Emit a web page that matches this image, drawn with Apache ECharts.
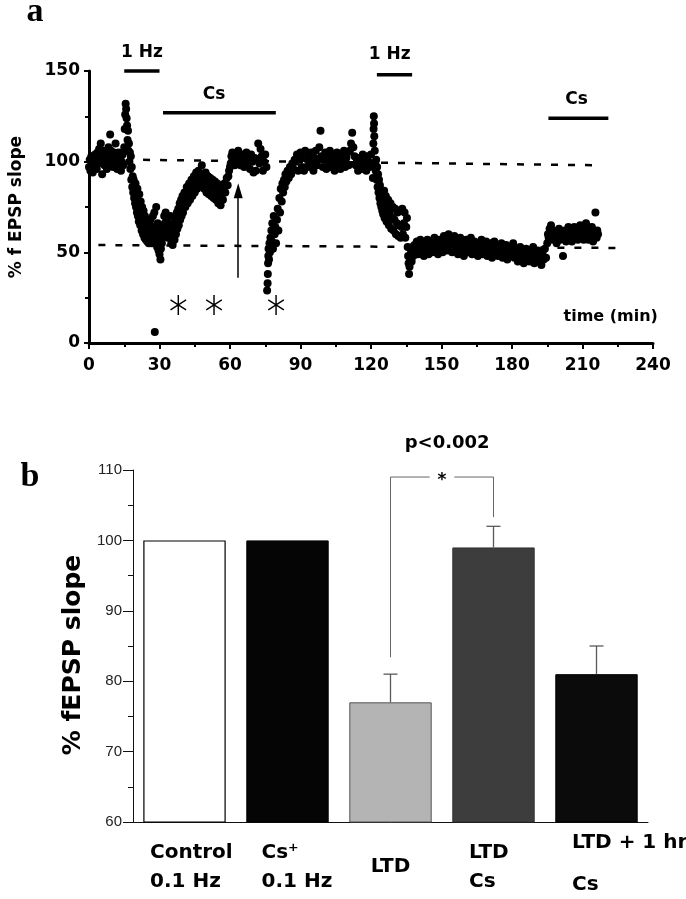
<!DOCTYPE html>
<html><head><meta charset="utf-8">
<script src="https://cdn.jsdelivr.net/npm/echarts@6/dist/echarts.min.js"></script>
<style>html,body{margin:0;padding:0;background:#fff}#c{width:686px;height:899px}</style>
</head><body><div id="c"></div>
<script>
// ================= DATA =================
// Panel a: % fEPSP slope vs time (min), [time, value]
const traceBaseline = [[0,97],[0.3,101],[0.6,95],[1,103],[1.3,99],[1.6,94],[2,102],[2.3,98],[2.6,104],[3,100],[3.3,96],[3.6,105],[4,99],[4.3,107],[4.6,101],[5,110],[5.3,103],[5.6,93],[6,100],[6.3,106],[6.6,98],[7,104],[7.3,100],[7.6,96],[8,103],[8.3,108],[8.6,101],[9,115],[9.3,106],[9.6,99],[10,103],[10.3,97],[10.6,105],[11,100],[11.3,110],[11.6,102],[12,96],[12.3,101],[12.6,105],[13,98],[13.3,103],[13.6,95],[14,100],[14.3,104],[14.6,98]];
const traceLfs1 = [[15,108],[15.2,118],[15.4,126],[15.6,132],[15.8,129],[16,124],[16.2,120],[16.4,112],[16.6,117],[16.8,106],[17,110],[17.2,100],[17.4,105],[17.6,96],[17.8,103],[18,90],[18.2,97],[18.4,86],[18.6,92],[18.8,83],[19,90],[19.2,80],[19.4,86],[19.6,77],[19.8,88],[20,75],[20.2,82],[20.4,72],[20.6,85],[20.8,70],[21,78],[21.2,67],[21.4,82],[21.6,73],[21.8,65],[22,78],[22.2,70],[22.4,62],[22.6,75],[22.8,67],[23,60],[23.2,73],[23.4,64],[23.6,58],[23.8,70],[24,62],[24.2,57],[24.4,68],[24.6,60],[24.8,56],[25,66],[25.2,59],[25.4,55],[25.6,65],[25.8,61],[26,56],[26.2,68],[26.4,60],[26.6,55],[26.8,64],[27,58],[27.2,70],[27.4,55],[27.6,62],[27.8,72],[28,57],[28.2,64],[28.4,55],[28.6,75],[28.8,60],[29,53],[29.2,66],[29.4,57],[29.6,51],[29.8,62],[30,49],[30.2,55],[30.4,46],[30.6,52],[30.8,58],[31,55]];
const traceCs1 = [[31.3,60],[31.6,64],[32,70],[32.3,66],[32.6,72],[33,62],[33.3,68],[33.6,58],[34,65],[34.3,60],[34.6,70],[35,55],[35.3,63],[35.6,54],[36,61],[36.2,66],[36.4,57],[36.6,63],[36.8,69],[37,60],[37.2,66],[37.4,72],[37.6,63],[37.8,69],[38,74],[38.2,65],[38.4,71],[38.6,77],[38.8,68],[39,74],[39.2,79],[39.4,70],[39.6,76],[39.8,81],[40,72],[40.3,78],[40.6,83],[41,75],[41.3,81],[41.6,86],[42,77],[42.3,83],[42.6,88],[43,79],[43.3,85],[43.6,90],[44,81],[44.3,87],[44.6,92],[45,83],[45.3,89],[45.6,94],[46,85],[46.3,90],[46.6,95],[47,87],[47.3,92],[47.6,89],[48,98],[48.3,88],[48.6,93],[49,85],[49.3,90],[49.6,94],[50,83],[50.3,88],[50.6,92],[51,82],[51.3,87],[51.6,91],[52,81],[52.3,86],[52.6,90],[53,80],[53.3,85],[53.6,89],[54,79],[54.3,84],[54.6,88],[55,77],[55.3,82],[55.6,86],[56,76],[56.3,81],[56.6,85],[57,79],[57.3,84],[57.6,88],[58,83],[58.3,87],[58.6,91],[59,87],[59.3,92],[59.6,95],[60,97],[60.3,99],[60.6,103],[61,105],[61.5,101],[62,98],[62.5,104],[63,100],[63.5,106],[64,102],[64.5,98],[65,104],[65.5,100],[66,97],[66.5,103],[67,105],[67.5,99],[68,101],[68.5,96],[69,104],[69.5,100],[70,94],[70.5,102],[71,95],[71.5,101],[72,110],[72.5,99],[73,107],[73.5,103],[74,95],[74.5,100],[75,104],[75.5,97]];
const traceRecovery = [[75.8,29],[76,33],[76.1,38],[76.2,44],[76.3,48],[76.4,52],[76.6,46],[76.8,55],[77,50],[77.2,58],[77.4,53],[77.6,62],[77.8,56],[78,66],[78.3,52],[78.6,70],[79,60],[79.3,64],[79.6,55],[80,68],[80.3,74],[80.6,62],[81,80],[81.3,72],[81.6,85],[82,78],[82.3,88],[82.6,83],[83,90],[83.3,86],[83.6,93],[84,89],[84.5,95],[85,91],[85.5,97],[86,93],[86.5,99],[87,96],[87.5,101]];
const tracePlateau = [[88,100],[88.5,104],[89,95],[89.5,101],[90,105],[90.5,97],[91,102],[91.5,95],[92,106],[92.5,97],[93,101],[93.5,104],[94,97],[94.5,105],[95,100],[95.5,95],[96,102],[96.5,106],[97,98],[97.5,101],[98,108],[98.5,117],[99,103],[99.5,97],[100,101],[100.5,105],[101,96],[101.5,102],[102,99],[102.5,106],[103,97],[103.5,101],[104,104],[104.5,95],[105,100],[105.5,105],[106,98],[106.5,102],[107,96],[107.5,104],[108,100],[108.5,106],[109,97],[109.5,102],[110,105],[110.5,98],[111,106],[111.5,110],[112,116],[112.5,108],[113,103],[113.5,98],[114,101],[114.5,95],[115,102],[115.5,100],[116,96],[116.5,104],[117,98],[117.5,101],[118,95],[118.5,103],[119,100],[119.5,97],[120,104],[120.5,99]];
const traceLfs2 = [[120.8,91],[121,110],[121.1,118],[121.2,125],[121.3,121],[121.4,114],[121.6,106],[121.8,99],[122,95],[122.2,101],[122.4,90],[122.6,97],[122.8,86],[123,93],[123.2,83],[123.4,90],[123.6,80],[123.8,87],[124,77],[124.2,84],[124.4,75],[124.6,81],[124.8,73],[125,79],[125.2,71],[125.4,77],[125.6,84],[125.8,69],[126,75],[126.3,81],[126.6,67],[127,73],[127.3,79],[127.6,65],[128,71],[128.3,77],[128.6,63],[129,69],[129.3,75],[129.6,62],[130,68],[130.3,74],[130.6,60],[131,66],[131.3,72],[131.6,59],[132,65],[132.3,73],[132.6,58],[133,64],[133.3,74],[133.6,60],[134,66],[134.3,72],[134.6,58],[135,64],[135.3,69],[135.6,53],[135.8,48],[136,44],[136.2,38],[136.4,42],[136.6,47],[137,51],[137.3,45],[137.6,53]];
const traceLtd = [[138,48],[138.5,54],[139,50],[139.5,56],[140,49],[140.5,53],[141,57],[141.5,50],[142,54],[142.5,48],[143,55],[143.5,51],[144,57],[144.5,49],[145,53],[145.5,56],[146,50],[146.5,54],[147,58],[147.5,51],[148,55],[148.5,49],[149,57],[149.5,52],[150,56],[150.5,50],[151,59],[151.5,53],[152,57],[152.5,51],[153,60],[153.5,54],[154,57],[154.5,50],[155,55],[155.5,59],[156,52],[156.5,56],[157,49],[157.5,54],[158,58],[158.5,51],[159,55],[159.5,48],[160,53],[160.5,57],[161,50],[161.5,55],[162,52],[162.5,58],[163,49],[163.5,54],[164,56],[164.5,50],[165,53],[165.5,48],[166,55],[166.5,51],[167,57],[167.5,49],[168,54],[168.5,52],[169,56],[169.5,48],[170,53],[170.5,50],[171,55],[171.5,47],[172,52],[172.5,56],[173,50],[173.5,54],[174,48],[174.5,53],[175,51],[175.5,55],[176,47],[176.5,52],[177,49],[177.5,54],[178,46],[178.5,51],[179,53],[179.5,48],[180,50],[180.5,55],[181,47],[181.5,52],[182,49],[182.5,45],[183,51],[183.5,53],[184,47],[184.5,50],[185,44],[185.5,49],[186,52],[186.5,46],[187,50],[187.5,45],[188,51],[188.5,48],[189,53],[189.5,44],[190,49],[190.5,46],[191,51],[191.5,45],[192,48],[192.5,43],[193,50],[193.5,46],[194,52],[194.5,47]];
const traceCs2 = [[195,55],[195.3,60],[195.6,58],[196,63],[196.3,57],[196.6,65],[197,59],[197.5,62],[198,57],[198.5,61],[199,55],[199.5,60],[200,63],[200.5,57],[201,60],[201.7,48],[202,58],[202.5,62],[203,56],[203.5,60],[204,64],[204.5,58],[205,61],[205.5,56],[206,60],[206.5,64],[207,58],[207.5,62],[208,57],[208.5,61],[209,65],[209.5,59],[210,62],[210.5,57],[211,63],[211.5,66],[212,60],[212.5,57],[213,62],[213.5,59],[214,64],[214.5,56],[215,61],[215.5,72],[216,58],[216.3,62],[216.6,60]];
const traceOutliers = [[28,6]];
// reference (dashed) levels: [time, value]
const refHigh = [[23,101],[218,98]];
const refLow = [[4,54],[225,52.4]];
// treatment periods: [label, start min, end min]
const periods = [['1 Hz',15,30],['Cs',31.5,79.5],['1 Hz',122.5,137.5],['Cs',195.5,221]];
// arrow (time, from value, to value) and asterisk times
const arrowAt = [63.5, 36, 84];
const starTimes = [38, 53.2, 79.6];

// Panel b
const groupLabels = [['Control','0.1 Hz'],['Cs\u207A','0.1 Hz'],['LTD'],['LTD','Cs'],['LTD + 1 hr','Cs']];
const barMeans = [100, 100, 77, 99, 81];
const barErrUp = [null, null, 81, 102, 85];
const sigPair = [2, 3];
const sigText = 'p<0.002';

// ================= CHART =================
const chart = echarts.init(document.getElementById('c'), null, {renderer:'canvas'});
const BOLD = '"DejaVu Sans"';
const black = '#000';
const traceAll = [].concat(traceBaseline, traceLfs1, traceCs1, traceRecovery, tracePlateau, traceLfs2, traceLtd, traceCs2, traceOutliers);

const periodY = [150, 127, 148, 124];
const periodTextY = [160, 137, 159, 134];
const periodTextX = [22.5, 53.2, 128, 207.5];

const barStyles = [
  {color:'#ffffff', borderColor:'#000', borderWidth:1.2},
  {color:'#050505', borderColor:'#000', borderWidth:1},
  {color:'#b4b4b4', borderColor:'#555', borderWidth:1},
  {color:'#3d3d3d', borderColor:'#333', borderWidth:1},
  {color:'#0b0b0b', borderColor:'#000', borderWidth:1}
];

const starPath = 'path://M-0.8,-10L0.8,-10L0.8,10L-0.8,10Z M-8.26,-5.69L9.06,4.31L8.26,5.69L-9.06,-4.31Z M-9.06,4.31L8.26,-5.69L9.06,-4.31L-8.26,5.69Z';

const series = [
  {type:'scatter', xAxisIndex:0, yAxisIndex:0, data:traceAll, symbolSize:8, itemStyle:{color:'#000', opacity:1}, silent:true, z:3},
  {type:'line', xAxisIndex:0, yAxisIndex:0, data:refHigh, symbol:'none', lineStyle:{color:black, width:2.5, type:[7,10]}, silent:true, z:2},
  {type:'line', xAxisIndex:0, yAxisIndex:0, data:refLow, symbol:'none', lineStyle:{color:black, width:2.5, type:[7,10]}, silent:true, z:2},
  {type:'line', xAxisIndex:0, yAxisIndex:0, data:[], symbol:'none', silent:true,
    markLine:{silent:true, symbol:['none','triangle'], symbolSize:[9,15], label:{show:false},
      lineStyle:{color:black, width:1.5, type:'solid', opacity:1}, itemStyle:{color:black},
      data:[[{coord:[arrowAt[0],arrowAt[1]]},{coord:[arrowAt[0],arrowAt[2]]}]]}},
  {type:'scatter', xAxisIndex:0, yAxisIndex:0, data:starTimes.map(t=>[t,21]), symbol:starPath, symbolSize:[18,20], symbolKeepAspect:true, itemStyle:{color:'#000', opacity:1}, silent:true}
];
periods.forEach((p,i)=>{
  series.push({type:'line', xAxisIndex:0, yAxisIndex:0, clip:false, data:[[p[1],periodY[i]],[p[2],periodY[i]]], symbol:'none', lineStyle:{color:black, width:3.5}, silent:true});
});
// bars
series.push({type:'bar', xAxisIndex:1, yAxisIndex:1, barCategoryGap:'20%',
  data:barMeans.map((v,i)=>({value:v, itemStyle:barStyles[i]})), silent:true, z:2});
// error bars
series.push({type:'custom', xAxisIndex:2, yAxisIndex:1, silent:true, z:3,
  data:barMeans.map((v,i)=>barErrUp[i]==null?null:[i, v, barErrUp[i]]).filter(d=>d),
  encode:{x:0, y:[1,2]},
  renderItem:function(params, api){
    const p0 = api.coord([api.value(0), api.value(1)]);
    const p1 = api.coord([api.value(0), api.value(2)]);
    const st = {stroke:'#5a5a5a', lineWidth:1.3};
    return {type:'group', children:[
      {type:'line', shape:{x1:p0[0], y1:p0[1], x2:p1[0], y2:p1[1]}, style:st},
      {type:'line', shape:{x1:p1[0]-7, y1:p1[1], x2:p1[0]+7, y2:p1[1]}, style:st}
    ]};
  }});
// significance bracket
series.push({type:'line', xAxisIndex:2, yAxisIndex:1, data:[[sigPair[0],83.4],[sigPair[0],109],[2.38,109]], symbol:'none', lineStyle:{color:'#666', width:1}, silent:true});
series.push({type:'line', xAxisIndex:2, yAxisIndex:1, data:[[2.62,109],[sigPair[1],109],[sigPair[1],103.3]], symbol:'none', lineStyle:{color:'#666', width:1}, silent:true});

const option = {
  animation:false,
  backgroundColor:'#fff',
  grid:[{left:88, top:71, width:565, height:272}, {left:133, top:470, width:515, height:352}],
  xAxis:[
    {gridIndex:0, type:'value', min:0, max:240, interval:30,
      axisLine:{show:true, onZero:false, lineStyle:{color:black, width:3}},
      axisTick:{show:true, length:6, lineStyle:{color:black, width:2}},
      minorTick:{show:true, splitNumber:2, length:4, lineStyle:{color:black, width:2}},
      splitLine:{show:false},
      axisLabel:{color:black, fontFamily:BOLD, fontWeight:'bold', fontSize:17, margin:14}},
    {gridIndex:1, type:'category', data:groupLabels.map(l=>l.join('\n')),
      axisLine:{show:true, lineStyle:{color:'#111', width:1}}, axisTick:{show:false}, axisLabel:{show:false}},
    {gridIndex:1, type:'value', min:-0.5, max:4.5, show:false}
  ],
  yAxis:[
    {gridIndex:0, type:'value', min:0, max:150, interval:50,
      axisLine:{show:true, onZero:false, lineStyle:{color:black, width:3}},
      axisTick:{show:true, length:5, lineStyle:{color:black, width:2}},
      minorTick:{show:true, splitNumber:2, length:4, lineStyle:{color:black, width:2}},
      splitLine:{show:false},
      axisLabel:{color:black, fontFamily:BOLD, fontWeight:'bold', fontSize:17, margin:9},
      name:'% f EPSP slope', nameLocation:'middle', nameGap:64,
      nameTextStyle:{color:black, fontFamily:BOLD, fontWeight:'bold', fontSize:17}},
    {gridIndex:1, type:'value', min:60, max:110, interval:10,
      axisLine:{show:true, onZero:false, lineStyle:{color:'#111', width:1}},
      axisTick:{show:true, length:10, lineStyle:{color:'#111', width:1}},
      minorTick:{show:true, splitNumber:2, length:5, lineStyle:{color:'#111', width:1}},
      splitLine:{show:false},
      axisLabel:{color:'#222', fontFamily:'"Liberation Sans"', fontSize:15, margin:11},
      name:'% fEPSP slope', nameLocation:'middle', nameGap:40,
      nameTextStyle:{color:black, fontFamily:BOLD, fontWeight:'bold', fontSize:25, padding:[0,18,0,0]}}
  ],
  series:series
};
chart.setOption(option);

// ---------- text annotations positioned through the axes ----------
const g = [];
const pa = (x,y)=>chart.convertToPixel({gridIndex:0}, [x,y]);
const pb = (x,y)=>[chart.convertToPixel({xAxisIndex:2}, x), chart.convertToPixel({yAxisIndex:1}, y)];
function txt(x,y,text,font,align,valign){
  g.push({type:'text', x:x, y:y, silent:true, style:{text:text, font:font, fill:'#000', textAlign:align||'center', textVerticalAlign:valign||'middle'}});
}
periods.forEach((p,i)=>{ const q = pa(periodTextX[i], periodTextY[i]); txt(q[0], q[1], p[0], 'bold 17px '+BOLD); });
{ const q = pa(222, 14.3); txt(q[0], q[1], 'time (min)', 'bold 16px '+BOLD); }
// panel letters
txt(35, 12, 'a', 'bold 34px "Liberation Serif"');
txt(30, 477, 'b', 'bold 34px "Liberation Serif"');
// significance
{ const q = pb(2.5, 109); txt(q[0], q[1]+4, '*', 'bold 17px '+BOLD); }
{ const q = pb(2.55, 113.8); txt(q[0], q[1], sigText, 'bold 18px '+BOLD); }
// group labels
const labelDx = [-34.5, -26, 0, -24.5, -24.5];
const labelAlign = ['left','left','center','left','left'];
const labelLinesY = [[853,882],[853,882],[867],[853,882],[843,885]];
groupLabels.forEach((lines,i)=>{
  const cx = chart.convertToPixel({xAxisIndex:2}, i);
  lines.forEach((s,j)=> txt(cx+labelDx[i], labelLinesY[i][j], s, 'bold 20px '+BOLD, labelAlign[i]));
});
chart.setOption({graphic:{elements:g}});
</script>
</body></html>
